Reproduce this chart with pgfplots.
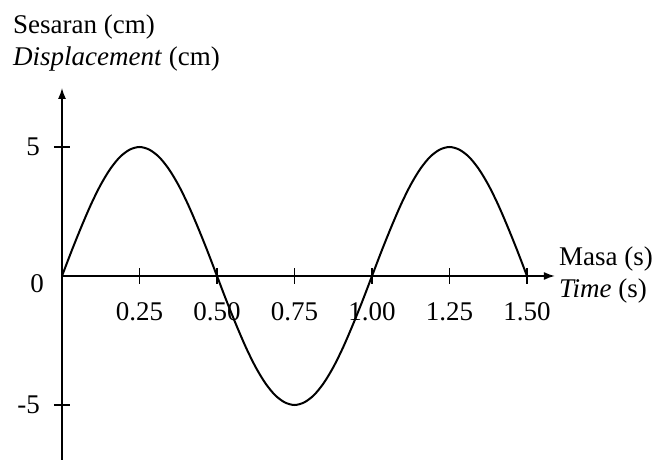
\documentclass[border=0pt]{standalone}
\usepackage{fontspec}
\setmainfont{Liberation Serif}
\usepackage{pgfplots}
\pgfplotsset{compat=1.18}
\usetikzlibrary{arrows.meta}

\begin{document}
\fontsize{27}{32}\selectfont
\begin{tikzpicture}
% page frame, origin of the axes at (0,0)
\useasboundingbox (-62pt,-184pt) rectangle (592pt,276pt);
\begin{axis}[
    at={(0,0)}, anchor=origin,
    x=310pt, y=25.8pt,
    axis lines=middle,
    xmin=0, xmax=1.59,
    ymin=-7.2, ymax=7.29,
    axis line style={line width=1.6pt},
    x axis line style={-{Latex[length=11pt,width=8pt]}},
    y axis line style={-{Latex[length=11pt,width=8pt]}},
    xtick={0.25,0.5,0.75,1,1.25,1.5},
    ytick={-5,5},
    tick style={line width=1.6pt, black},
    major tick length=16pt,
    tick align=center,
    /pgf/number format/assume math mode=true,
    xticklabel style={/pgf/number format/.cd, fixed, fixed zerofill, precision=2, /tikz/.cd, anchor=north, yshift=-9pt},
    yticklabel style={anchor=east, xshift=-5pt},
    xlabel={Masa (s)\\\textit{Time} (s)},
    xlabel style={at={(axis cs:1.59,0)}, anchor=west, align=left, inner sep=0pt, xshift=4pt, yshift=1pt},
    ylabel={Sesaran (cm)\\\textit{Displacement} (cm)},
    ylabel style={at={(axis cs:0,7.29)}, anchor=south west, align=left, inner sep=0pt, xshift=-49pt, yshift=16pt},
    clip=false,
]
\addplot[black, line width=2pt, smooth] coordinates {
    (0,0) (0.03125,0.98) (0.0625,1.91) (0.09375,2.78) (0.125,3.54)
    (0.15625,4.16) (0.1875,4.62) (0.21875,4.90) (0.25,5)
    (0.28125,4.90) (0.3125,4.62) (0.34375,4.16) (0.375,3.54)
    (0.40625,2.78) (0.4375,1.91) (0.46875,0.98) (0.5,0)
    (0.53125,-0.98) (0.5625,-1.91) (0.59375,-2.78) (0.625,-3.54)
    (0.65625,-4.16) (0.6875,-4.62) (0.71875,-4.90) (0.75,-5)
    (0.78125,-4.90) (0.8125,-4.62) (0.84375,-4.16) (0.875,-3.54)
    (0.90625,-2.78) (0.9375,-1.91) (0.96875,-0.98) (1,0)
    (1.03125,0.98) (1.0625,1.91) (1.09375,2.78) (1.125,3.54)
    (1.15625,4.16) (1.1875,4.62) (1.21875,4.90) (1.25,5)
    (1.28125,4.90) (1.3125,4.62) (1.34375,4.16) (1.375,3.54)
    (1.40625,2.78) (1.4375,1.91) (1.46875,0.98) (1.5,0)
};
\node[anchor=east, inner sep=0pt, xshift=-18pt] at (axis cs:0,-0.28) {0};
\end{axis}
\end{tikzpicture}
\end{document}
